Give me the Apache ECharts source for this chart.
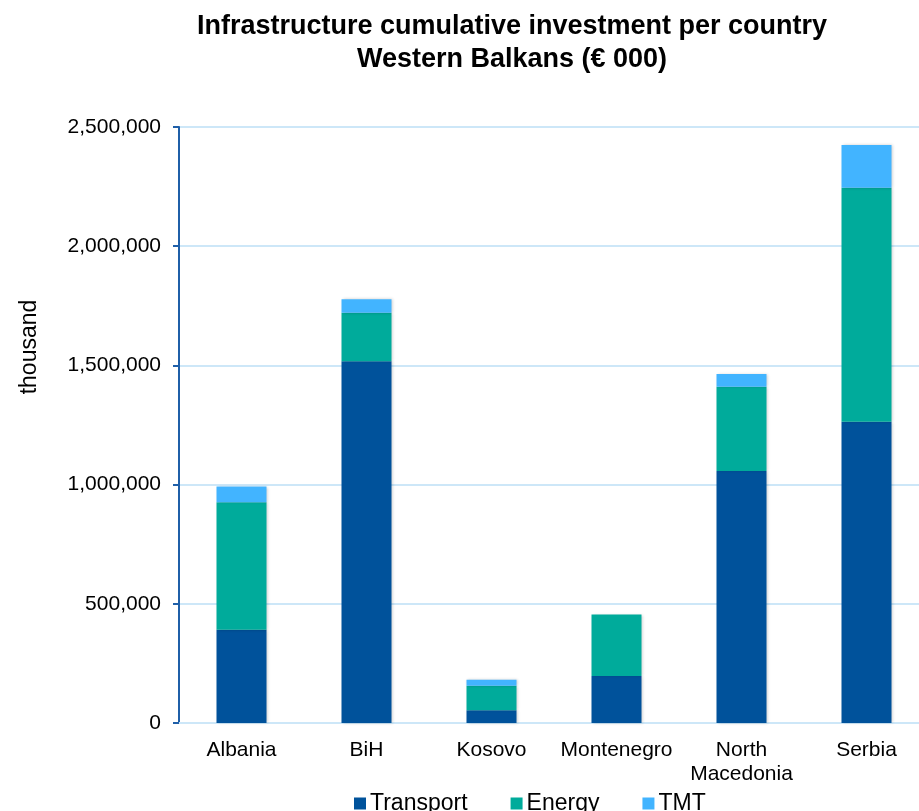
<!DOCTYPE html>
<html>
<head>
<meta charset="utf-8">
<script src="https://cdn.jsdelivr.net/npm/echarts@6/dist/echarts.min.js"></script>
<style>html,body{margin:0;padding:0;background:#fff;}#c{width:919px;height:811px;}</style>
</head>
<body>
<div id="c"></div>
<script>
var categories = ['Albania', 'BiH', 'Kosovo', 'Montenegro', 'North\nMacedonia', 'Serbia'];
var transport = [391000, 1517000, 53000, 197000, 1057000, 1264000];
var energy = [535000, 204000, 103000, 258000, 353000, 981000];
var tmt = [66000, 56000, 25000, 0, 54000, 179000];
var yTicks = [0, 500000, 1000000, 1500000, 2000000, 2500000];

var font = '"Liberation Sans", Arial, sans-serif';
var chart = echarts.init(document.getElementById('c'), null, {renderer: 'canvas'});
var shadow = {shadowColor: 'rgba(0,0,0,0.2)', shadowBlur: 3, shadowOffsetX: 1, shadowOffsetY: 0};
function mk(name, data, color) {
  return {
    name: name, type: 'bar', stack: 'total', data: data, barWidth: 50,
    itemStyle: Object.assign({color: color}, shadow)
  };
}
chart.setOption({
  animation: false,
  title: {
    text: 'Infrastructure cumulative investment per country\nWestern Balkans (€ 000)',
    left: 507, top: 5, textAlign: 'center',
    textStyle: {fontFamily: font, fontWeight: 'bold', fontSize: 27, color: '#000', lineHeight: 33}
  },
  graphic: [{
    type: 'text', x: 30, y: 347, rotation: Math.PI / 2,
    style: {text: 'thousand', fontFamily: font, fontSize: 23, fill: '#000', align: 'center', verticalAlign: 'middle'}
  }],
  legend: {
    data: ['Transport', 'Energy', 'TMT'],
    left: 349, top: 787, itemWidth: 12, itemHeight: 12, itemGap: 43,
    icon: 'rect',
    textStyle: {fontFamily: font, fontSize: 23, color: '#000', padding: [0, 0, 0, -1]}
  },
  grid: {left: 179, width: 750, top: 127, bottom: 88, containLabel: false, outerBoundsMode: 'none'},
  xAxis: {
    type: 'category', data: categories,
    axisLine: {show: true, lineStyle: {color: '#cde7f8', width: 2}},
    axisTick: {show: false},
    axisLabel: {fontFamily: font, fontSize: 21, color: '#000', margin: 15, lineHeight: 24, interval: 0, hideOverlap: false}
  },
  yAxis: {
    type: 'value', min: 0, max: 2500000, interval: 500000,
    axisLine: {show: true, lineStyle: {color: '#1f5fa8', width: 2}},
    axisTick: {show: true, length: 6, lineStyle: {color: '#1f5fa8', width: 2}},
    splitLine: {show: true, lineStyle: {color: '#cde7f8', width: 2}},
    axisLabel: {
      fontFamily: font, fontSize: 21, color: '#000', margin: 18,
      formatter: function (v) { return v.toLocaleString('en-US'); }
    }
  },
  series: [
    mk('Transport', transport, '#00529b'),
    mk('Energy', energy, '#00ab9b'),
    mk('TMT', tmt, '#42b4ff')
  ]
});
</script>
</body>
</html>
